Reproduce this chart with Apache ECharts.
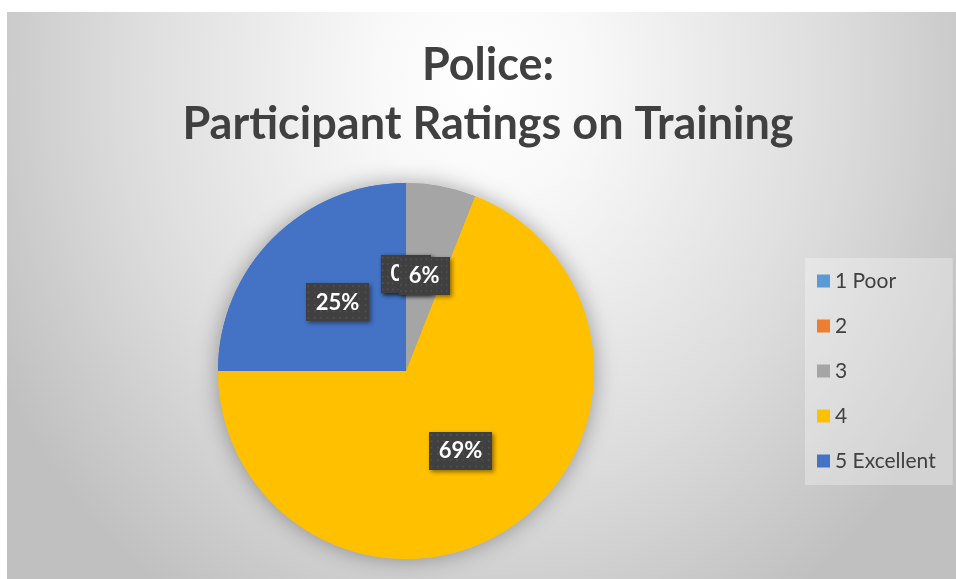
<!DOCTYPE html>
<html>
<head>
<meta charset="utf-8">
<script src="https://cdn.jsdelivr.net/npm/echarts@6/dist/echarts.min.js"></script>
<style>
html,body{margin:0;padding:0;background:#fff;}
#bg{position:absolute;left:7px;top:12px;width:949px;height:567px;
background:radial-gradient(ellipse 58% 110% at 50% 12%, #ffffff 0%, #f8f8f8 20%, #dcdcdc 65%, #c0c0c0 100%);}
#chart{position:absolute;left:0;top:0;width:956px;height:579px;}
</style>
</head>
<body>
<div id="bg"></div>
<div id="chart"></div>
<script>
// Data
const titleText = 'Police:\nParticipant Ratings on Training';
const categories = ['1 Poor', '2', '3', '4', '5 Excellent'];
const values = [0, 0, 6, 69, 25];
const sliceColors = ['#5B9BD5', '#ED7D31', '#A5A5A5', '#FFC000', '#4472C4'];

const makeData = () => categories.map((c, i) => ({ name: c, value: values[i], itemStyle: { color: sliceColors[i] } }));

// dotted dark texture for the data-label boxes
const tex = document.createElement('canvas');
tex.width = 70; tex.height = 42;
(function () {
  const g = tex.getContext('2d');
  g.fillStyle = '#404040';
  g.fillRect(0, 0, tex.width, tex.height);
  g.fillStyle = '#4f4f4f';
  for (let y = 2; y < tex.height; y += 7) {
    for (let x = 2; x < tex.width; x += 7) g.fillRect(x, y, 2, 2);
  }
})();

const chart = echarts.init(document.getElementById('chart'), null, { renderer: 'canvas' });
const FONT = 'Lato, "Open Sans", sans-serif';
chart.setOption({
  animation: false,
  title: {
    text: titleText,
    left: 483,
    top: 31,
    textAlign: 'center',
    textStyle: { fontFamily: FONT, fontWeight: 'bold', fontSize: 45, lineHeight: 59, color: '#404040' }
  },
  legend: {
    orient: 'vertical',
    left: 805,
    top: 258,
    padding: [11, 17, 12, 12],
    backgroundColor: 'rgba(255,255,255,0.3)',
    itemWidth: 13,
    itemHeight: 13,
    itemGap: 21,
    icon: 'rect',
    data: categories,
    textStyle: { fontFamily: FONT, fontSize: 21, lineHeight: 24, color: '#404040' }
  },
  series: [
    {
      type: 'pie',
      z: 2,
      center: [406, 371],
      radius: 188,
      startAngle: 90,
      clockwise: true,
      percentPrecision: 0,
      minShowLabelAngle: -1,
      avoidLabelOverlap: false,
      itemStyle: { borderWidth: 0 },
      label: {
        show: true,
        position: 'inside',
        formatter: '{d}%',
        fontFamily: FONT,
        fontWeight: 'bold',
        fontSize: 22,
        color: '#ffffff',
        backgroundColor: { image: tex },
        padding: [9, 10, 7, 10],
        shadowBlur: 4,
        shadowOffsetX: 2,
        shadowOffsetY: 2,
        shadowColor: 'rgba(0,0,0,0.45)'
      },
      labelLine: { show: false },
      data: makeData()
    },
    {
      type: 'pie',
      silent: true,
      z: 1,
      center: [406, 371],
      radius: 188,
      startAngle: 90,
      clockwise: true,
      label: { show: false },
      labelLine: { show: false },
      legendHoverLink: false,
      itemStyle: { shadowBlur: 22, shadowColor: 'rgba(0,0,0,0.35)', borderWidth: 0 },
      data: makeData()
    }
  ]
});

// ECharts hides labels of zero-value sectors; the original shows them (overlapped).
try {
  const data = chart.getModel().getSeriesByIndex(0).getData();
  data.each(function (idx) {
    const el = data.getItemGraphicEl(idx);
    const lb = el && el.getTextContent();
    if (lb && lb.ignore) { lb.ignore = false; lb.markRedraw(); }
  });
  chart.getZr().refreshImmediately();
} catch (e) {}
</script>
</body>
</html>
